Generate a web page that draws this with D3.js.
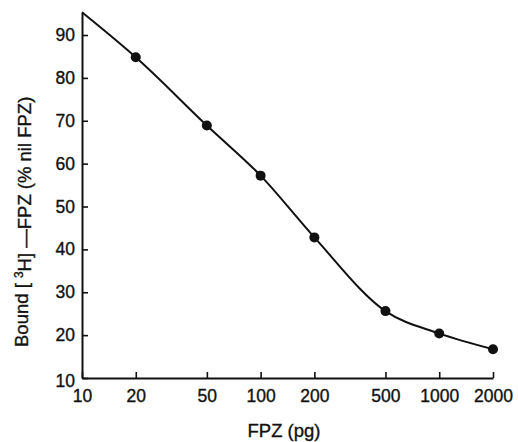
<!DOCTYPE html>
<html>
<head>
<meta charset="utf-8">
<script src="https://cdn.jsdelivr.net/npm/d3@7"></script>
<style>
  body { margin: 0; background: #fff; }
  svg text { font-family: "Liberation Sans", Arial, Helvetica, sans-serif; fill: #111; stroke: #111; stroke-width: 0.35px; }
</style>
</head>
<body>
<div id="chart"></div>
<script>
// Values
const doses = [10, 20, 50, 100, 200, 500, 1000, 2000];        // FPZ (pg)
const bound = [95.3, 84.8, 68.9, 57.2, 42.8, 25.6, 20.4, 16.7]; // % nil FPZ
const measured = [false, true, true, true, true, true, true, true];
const xTicks = [10, 20, 50, 100, 200, 500, 1000, 2000];
const yTicks = [10, 20, 30, 40, 50, 60, 70, 80, 90];

const width = 518,
      height = 442;

const svg = d3.select("#chart")
    .append("svg")
    .attr("width", width)
    .attr("height", height);

const x = d3.scaleLog()
    .domain([10, 2000])
    .range([82, 493]);

const y = d3.scaleLinear()
    .domain([10, 95.3])
    .range([378, 12.3]);

// axes, ticks point inward
const xAxis = d3.axisBottom(x)
    .tickValues(xTicks)
    .tickFormat(d3.format("d"))
    .tickSizeInner(-6)
    .tickSizeOuter(0)
    .tickPadding(12);

const yAxis = d3.axisLeft(y)
    .tickValues(yTicks)
    .tickSizeInner(-6)
    .tickSizeOuter(0)
    .tickPadding(7);

const gx = svg.append("g")
    .attr("transform", `translate(0,${y(10)})`)
    .call(xAxis);

const gy = svg.append("g")
    .attr("transform", `translate(${x(10)},0)`)
    .call(yAxis);

[gx, gy].forEach(g => {
    g.select(".domain").attr("stroke", "#111").attr("stroke-width", 2);
    g.selectAll(".tick line").attr("stroke", "#111").attr("stroke-width", 1.6);
    g.selectAll(".tick text").style("font-size", "17.5px").attr("fill", "#111");
});

// the y "10" sits a little low, the x "10" under it
gy.selectAll(".tick text").filter(d => d === 10).attr("dy", "0.5em");

// smooth curve through the points
const pts = doses.map((d, i) => [x(d), y(bound[i])]);

svg.append("path")
    .datum(pts)
    .attr("fill", "none")
    .attr("stroke", "#111")
    .attr("stroke-width", 2)
    .attr("d", d3.line().curve(d3.curveMonotoneX));

svg.append("g")
    .selectAll("circle")
    .data(pts.filter((p, i) => measured[i]))
    .enter()
    .append("circle")
    .attr("cx", d => d[0])
    .attr("cy", d => d[1])
    .attr("r", 5)
    .attr("fill", "#111");

// axis titles
svg.append("text")
    .attr("x", 284)
    .attr("y", 437)
    .attr("text-anchor", "middle")
    .style("font-size", "18.5px")
    .text("FPZ (pg)");

const yt = svg.append("text")
    .attr("transform", "translate(28,347) rotate(-90)")
    .attr("text-anchor", "start")
    .style("font-size", "18.5px");
yt.append("tspan").text("Bound [ ");
yt.append("tspan").attr("dy", "-0.45em").style("font-size", "12px").text("3");
yt.append("tspan").attr("dy", "0.45em").text("H]  \u2014FPZ (% nil FPZ)");
</script>
</body>
</html>
